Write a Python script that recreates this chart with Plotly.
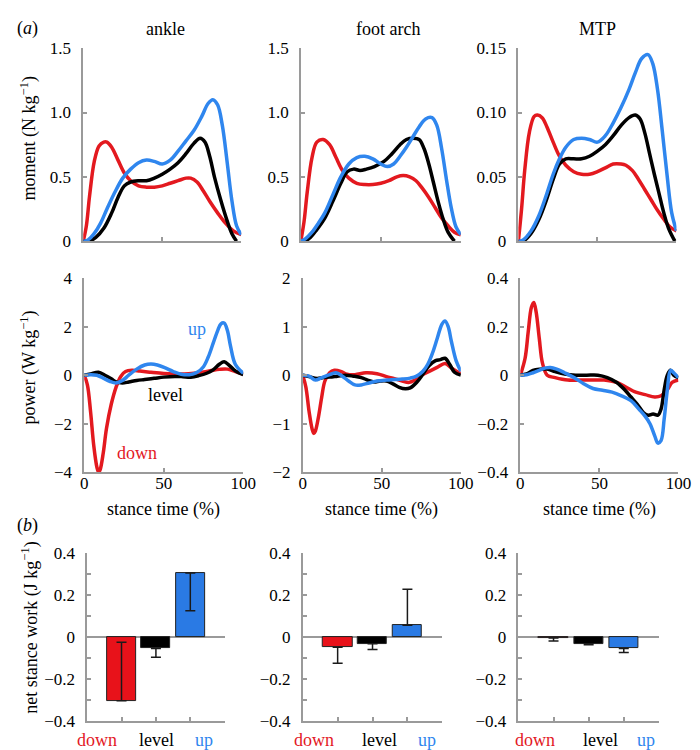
import plotly.graph_objects as go

# ---------------- data ----------------
joints = ["ankle", "foot arch", "MTP"]
conditions = ["down", "level", "up"]

# moment (N kg^-1) : x = stance time (%)
ank_m_down_x = [0, 2, 4, 7, 10, 13, 15, 18, 22, 26, 30, 35, 40, 45, 50, 55, 60, 65, 68, 72, 76, 80, 85, 90, 95, 100]
ank_m_down_y = [0, 0.12, 0.35, 0.62, 0.74, 0.77, 0.77, 0.73, 0.63, 0.53, 0.47, 0.43, 0.42, 0.42, 0.43, 0.45, 0.47, 0.49, 0.49, 0.46, 0.39, 0.31, 0.22, 0.14, 0.08, 0.05]
ank_m_level_x = [0, 3, 8, 13, 18, 22, 26, 30, 35, 40, 45, 50, 55, 60, 65, 70, 74, 77, 80, 83, 87, 91, 94, 97]
ank_m_level_y = [0, 0, 0.03, 0.1, 0.22, 0.34, 0.43, 0.46, 0.47, 0.47, 0.49, 0.52, 0.56, 0.61, 0.68, 0.76, 0.80, 0.77, 0.66, 0.50, 0.32, 0.16, 0.06, 0]
ank_m_up_x = [0, 3, 7, 11, 15, 20, 25, 30, 35, 40, 45, 50, 55, 60, 65, 70, 75, 79, 82, 85, 88, 91, 94, 97, 100]
ank_m_up_y = [0, 0.01, 0.06, 0.14, 0.25, 0.38, 0.49, 0.56, 0.61, 0.63, 0.62, 0.60, 0.63, 0.70, 0.78, 0.86, 0.97, 1.07, 1.10, 1.06, 0.90, 0.62, 0.32, 0.12, 0.05]

fa_m_down_x = [0, 2, 4, 7, 10, 14, 18, 22, 26, 30, 35, 40, 45, 50, 55, 60, 64, 68, 72, 76, 80, 84, 88, 92, 96, 100]
fa_m_down_y = [0, 0.15, 0.38, 0.65, 0.77, 0.79, 0.75, 0.65, 0.55, 0.49, 0.45, 0.44, 0.44, 0.45, 0.47, 0.50, 0.51, 0.50, 0.47, 0.41, 0.34, 0.26, 0.18, 0.12, 0.07, 0.05]
fa_m_level_x = [0, 2, 6, 10, 15, 20, 25, 29, 33, 37, 41, 46, 52, 57, 62, 66, 70, 74, 77, 80, 83, 86, 89, 92, 96]
fa_m_level_y = [0, 0, 0.03, 0.09, 0.18, 0.31, 0.45, 0.54, 0.56, 0.55, 0.56, 0.58, 0.62, 0.68, 0.75, 0.79, 0.80, 0.79, 0.72, 0.60, 0.45, 0.30, 0.17, 0.07, 0]
fa_m_up_x = [0, 3, 7, 11, 15, 20, 25, 30, 35, 40, 45, 50, 54, 58, 62, 66, 70, 74, 78, 82, 85, 88, 91, 94, 97, 100]
fa_m_up_y = [0, 0.02, 0.07, 0.14, 0.22, 0.36, 0.50, 0.60, 0.65, 0.66, 0.64, 0.60, 0.58, 0.60, 0.66, 0.73, 0.81, 0.89, 0.95, 0.96, 0.90, 0.72, 0.48, 0.26, 0.11, 0.05]

mtp_m_down_x = [0, 2, 4, 7, 10, 12, 15, 18, 22, 26, 30, 35, 40, 45, 50, 55, 60, 65, 68, 72, 76, 80, 84, 88, 92, 96, 100]
mtp_m_down_y = [0, 0.025, 0.055, 0.085, 0.097, 0.098, 0.096, 0.089, 0.077, 0.066, 0.059, 0.054, 0.052, 0.052, 0.054, 0.057, 0.060, 0.060, 0.059, 0.055, 0.048, 0.040, 0.032, 0.024, 0.017, 0.011, 0.008]
mtp_m_level_x = [0, 3, 8, 13, 18, 22, 26, 30, 35, 40, 45, 50, 55, 60, 65, 70, 74, 77, 80, 83, 86, 89, 92, 95, 99]
mtp_m_level_y = [0, 0, 0.006, 0.017, 0.033, 0.048, 0.060, 0.064, 0.064, 0.064, 0.066, 0.070, 0.075, 0.082, 0.090, 0.096, 0.098, 0.095, 0.084, 0.068, 0.052, 0.037, 0.022, 0.010, 0]
mtp_m_up_x = [0, 3, 8, 13, 18, 22, 26, 30, 35, 40, 45, 50, 55, 60, 65, 70, 74, 78, 82, 85, 88, 91, 94, 97, 100]
mtp_m_up_y = [0, 0.001, 0.008, 0.020, 0.037, 0.052, 0.064, 0.073, 0.079, 0.080, 0.079, 0.077, 0.082, 0.092, 0.104, 0.118, 0.131, 0.142, 0.145, 0.138, 0.118, 0.086, 0.052, 0.022, 0.008]

# power (W kg^-1)
ank_p_down_x = [0, 2, 4, 6, 8, 9, 10, 12, 14, 17, 20, 23, 26, 30, 35, 42, 50, 57, 63, 69, 75, 80, 85, 90, 95, 100]
ank_p_down_y = [0, -0.4, -1.5, -2.9, -3.8, -4.0, -3.9, -3.2, -2.2, -1.2, -0.5, -0.05, 0.15, 0.2, 0.17, 0.12, 0.07, 0.05, 0.05, 0.08, 0.13, 0.19, 0.24, 0.25, 0.15, 0.05]
ank_p_level_x = [0, 4, 9, 13, 17, 20, 24, 28, 33, 38, 44, 50, 57, 62, 67, 72, 77, 81, 85, 88, 91, 95, 100]
ank_p_level_y = [0, 0.05, 0.12, 0.0, -0.15, -0.28, -0.32, -0.28, -0.22, -0.18, -0.13, -0.08, -0.05, -0.06, -0.08, -0.02, 0.08, 0.22, 0.45, 0.55, 0.42, 0.18, 0.02]
ank_p_up_x = [0, 4, 8, 12, 16, 20, 24, 28, 33, 38, 42, 46, 51, 56, 61, 66, 71, 75, 78, 81, 84, 86, 88, 90, 92, 95, 100]
ank_p_up_y = [0, 0.02, 0.0, -0.12, -0.25, -0.32, -0.22, 0.0, 0.25, 0.42, 0.46, 0.42, 0.30, 0.15, 0.04, 0.02, 0.12, 0.35, 0.75, 1.3, 1.85, 2.12, 2.15, 1.85, 1.2, 0.45, 0.08]

fa_p_down_x = [0, 2, 4, 6, 7, 8, 10, 12, 14, 17, 20, 24, 28, 33, 40, 47, 53, 58, 63, 67, 71, 75, 80, 85, 90, 94, 100]
fa_p_down_y = [0, -0.25, -0.75, -1.12, -1.2, -1.15, -0.85, -0.45, -0.12, 0.05, 0.1, 0.08, 0.02, 0.01, 0.05, 0.03, -0.03, -0.07, -0.12, -0.15, -0.1, 0.0, 0.08, 0.16, 0.24, 0.15, 0.03]
fa_p_level_x = [0, 4, 9, 13, 17, 22, 27, 32, 37, 41, 45, 49, 53, 57, 61, 65, 68, 72, 76, 80, 84, 87, 90, 93, 96, 100]
fa_p_level_y = [0, -0.03, -0.07, -0.05, -0.04, -0.02, 0.0, -0.02, -0.05, -0.1, -0.14, -0.12, -0.12, -0.18, -0.25, -0.28, -0.26, -0.15, 0.02, 0.2, 0.3, 0.32, 0.35, 0.22, 0.06, 0.0]
fa_p_up_x = [0, 4, 8, 12, 16, 21, 25, 29, 33, 37, 42, 47, 53, 58, 63, 68, 72, 76, 79, 82, 85, 88, 90, 92, 94, 97, 100]
fa_p_up_y = [0, -0.02, -0.1, -0.05, 0.0, 0.05, -0.02, -0.12, -0.2, -0.2, -0.16, -0.12, -0.1, -0.09, -0.08, -0.06, -0.02, 0.08, 0.22, 0.45, 0.75, 1.05, 1.12, 1.0, 0.7, 0.3, 0.08]

mtp_p_down_x = [0, 3, 5, 7, 8.5, 10, 12, 14, 17, 22, 30, 38, 45, 53, 61, 67, 73, 79, 85, 89, 93, 96, 100]
mtp_p_down_y = [0, 0.07, 0.18, 0.28, 0.30, 0.26, 0.15, 0.05, 0.0, -0.01, -0.02, -0.02, -0.02, -0.02, -0.03, -0.05, -0.07, -0.08, -0.09, -0.085, -0.06, -0.03, -0.02]
mtp_p_level_x = [0, 4, 8, 12, 17, 22, 28, 35, 42, 49, 55, 61, 66, 70, 74, 78, 81, 84, 87, 89, 91, 93, 95, 97, 100]
mtp_p_level_y = [0, 0.005, 0.02, 0.025, 0.025, 0.015, 0.005, 0.0, 0.0, 0.0, -0.01, -0.03, -0.06, -0.09, -0.12, -0.155, -0.165, -0.16, -0.165, -0.14, -0.06, 0.0, 0.02, 0.0, -0.01]
mtp_p_up_x = [0, 4, 8, 12, 16, 19, 23, 28, 34, 40, 46, 52, 58, 64, 70, 75, 79, 82, 85, 87, 89, 91, 93, 95, 97, 100]
mtp_p_up_y = [0, 0.002, 0.01, 0.02, 0.03, 0.032, 0.025, 0.01, -0.01, -0.035, -0.055, -0.062, -0.07, -0.085, -0.105, -0.14, -0.17, -0.2, -0.25, -0.28, -0.27, -0.18, -0.06, 0.02, 0.01, -0.01]

# net stance work (J kg^-1): bar means and one-sided error lengths
ank_work = [-0.305, -0.055, 0.305]
ank_err_plus = [0.28, 0.0, 0.0]
ank_err_minus = [0.0, 0.042, 0.18]
fa_work = [-0.05, -0.033, 0.055]
fa_err_plus = [0.0, 0.0, 0.172]
fa_err_minus = [0.076, 0.027, 0.0]
mtp_work = [-0.005, -0.033, -0.055]
mtp_err_plus = [0.0, 0.0, 0.0]
mtp_err_minus = [0.015, 0.005, 0.02]

moment_ticks = [[0, 0.5, 1.0, 1.5], [0, 0.5, 1.0, 1.5], [0, 0.05, 0.10, 0.15]]
moment_ticktext = [["0", "0.5", "1.0", "1.5"], ["0", "0.5", "1.0", "1.5"], ["0", "0.05", "0.10", "0.15"]]
power_ticks = [[-4, -2, 0, 2, 4], [-2, -1, 0, 1, 2], [-0.4, -0.2, 0, 0.2, 0.4]]
power_ticktext = [["−4", "−2", "0", "2", "4"], ["−2", "−1", "0", "1", "2"], ["−0.4", "−0.2", "0", "0.2", "0.4"]]
work_ticks = [-0.4, -0.2, 0, 0.2, 0.4]
work_ticktext = ["−0.4", "−0.2", "0", "0.2", "0.4"]
stance_ticks = [0, 50, 100]

# ---------------- style ----------------
RED = "#e3191f"
BLACK = "#000000"
BLUE = "#2f86ee"
BAR_COLORS = ["#e8121a", "#000000", "#2a7ae4"]
AX = "#9a9a9a"
FONT = "Liberation Serif, Times New Roman, DejaVu Serif, serif"
W, H = 700, 750


def px(x):
    return x / W


def py(y):
    return 1 - y / H


fig = go.Figure()

top_x = [(73, 235), (296, 460), (519, 681)]
mid_x = [(74, 237), (298, 460), (521, 683)]
bot_x = [(77, 218), (298, 441), (519, 663)]
top_y = (32, 230)
mid_y = (268, 467)
bot_y = (550, 722)

moment_data = [
    [(ank_m_down_x, ank_m_down_y), (ank_m_level_x, ank_m_level_y), (ank_m_up_x, ank_m_up_y)],
    [(fa_m_down_x, fa_m_down_y), (fa_m_level_x, fa_m_level_y), (fa_m_up_x, fa_m_up_y)],
    [(mtp_m_down_x, mtp_m_down_y), (mtp_m_level_x, mtp_m_level_y), (mtp_m_up_x, mtp_m_up_y)],
]
power_data = [
    [(ank_p_down_x, ank_p_down_y), (ank_p_level_x, ank_p_level_y), (ank_p_up_x, ank_p_up_y)],
    [(fa_p_down_x, fa_p_down_y), (fa_p_level_x, fa_p_level_y), (fa_p_up_x, fa_p_up_y)],
    [(mtp_p_down_x, mtp_p_down_y), (mtp_p_level_x, mtp_p_level_y), (mtp_p_up_x, mtp_p_up_y)],
]
work_data = [
    (ank_work, ank_err_plus, ank_err_minus),
    (fa_work, fa_err_plus, fa_err_minus),
    (mtp_work, mtp_err_plus, mtp_err_minus),
]
line_colors = [RED, BLACK, BLUE]
moment_range = [[0, 1.5], [0, 1.5], [0, 0.15]]
power_range = [[-4, 4], [-2, 2], [-0.4, 0.4]]

base_axis = dict(
    showline=True, linecolor=AX, linewidth=1.5, mirror=False,
    ticks="inside", tickcolor=AX, ticklen=4, tickwidth=1.5,
    showgrid=False, zeroline=False,
    tickfont=dict(family=FONT, size=17, color="black"),
    fixedrange=True,
)

layout = {}
for j in range(3):
    # top row: moment
    n = j + 1
    xa, ya = f"x{n}" if n > 1 else "x", f"y{n}" if n > 1 else "y"
    for c in range(3):
        xs, ys = moment_data[j][c]
        fig.add_trace(go.Scatter(x=xs, y=ys, mode="lines", xaxis=xa, yaxis=ya,
                                 line=dict(color=line_colors[c], width=3.5, shape="spline", smoothing=1.0),
                                 showlegend=False, hoverinfo="skip"))
    layout[f"xaxis{n if n > 1 else ''}"] = dict(base_axis, domain=[px(top_x[j][0]), px(top_x[j][1])],
                                                 range=[0, 100], anchor=ya, tickvals=stance_ticks, showticklabels=False)
    layout[f"yaxis{n if n > 1 else ''}"] = dict(base_axis, domain=[py(top_y[1]), py(top_y[0])],
                                                 range=moment_range[j], anchor=xa,
                                                 tickvals=moment_ticks[j], ticktext=moment_ticktext[j],
                                                 ticklabelstandoff=7)
    # middle row: power
    n = j + 4
    xa, ya = f"x{n}", f"y{n}"
    for c in range(3):
        xs, ys = power_data[j][c]
        fig.add_trace(go.Scatter(x=xs, y=ys, mode="lines", xaxis=xa, yaxis=ya,
                                 line=dict(color=line_colors[c], width=3.5, shape="spline", smoothing=1.0),
                                 showlegend=False, hoverinfo="skip"))
    layout[f"xaxis{n}"] = dict(base_axis, domain=[px(mid_x[j][0]), px(mid_x[j][1])],
                               range=[0, 100], anchor=ya, tickvals=stance_ticks, ticklabelstandoff=-5)
    layout[f"yaxis{n}"] = dict(base_axis, domain=[py(mid_y[1]), py(mid_y[0])],
                               range=power_range[j], anchor=xa,
                               tickvals=power_ticks[j], ticktext=power_ticktext[j], ticklabelstandoff=7)
    # bottom row: net work bars
    n = j + 7
    xa, ya = f"x{n}", f"y{n}"
    means, ep, em = work_data[j]
    fig.add_trace(go.Bar(x=[0, 1, 2], y=means, xaxis=xa, yaxis=ya, width=0.84,
                         marker=dict(color=BAR_COLORS, line=dict(color="#222222", width=1)),
                         error_y=dict(type="data", symmetric=False, array=ep, arrayminus=em,
                                      color="#1a1a1a", thickness=1.5, width=5),
                         showlegend=False, hoverinfo="skip"))
    layout[f"xaxis{n}"] = dict(base_axis, domain=[px(bot_x[j][0]), px(bot_x[j][1])],
                               range=[-1.0, 3.0], anchor=ya, tickvals=[0, 1, 2], showticklabels=False)
    layout[f"yaxis{n}"] = dict(base_axis, domain=[py(bot_y[1]), py(bot_y[0])],
                               range=[-0.4, 0.4], anchor=xa,
                               tickvals=work_ticks, ticktext=work_ticktext, ticklabelstandoff=7,
                               zeroline=True, zerolinecolor=AX, zerolinewidth=1.5,
                               minor=dict(dtick=0.1, ticks="inside", ticklen=4, tickcolor=AX, tickwidth=1.5, showgrid=False))

annotations = []


def ann(text, x, y, size=18, color="black", angle=0):
    annotations.append(dict(text=text, x=px(x), y=py(y), xref="paper", yref="paper",
                            showarrow=False, textangle=angle,
                            font=dict(family=FONT, size=size, color=color),
                            xanchor="center", yanchor="middle"))


ann("(<i>a</i>)", 16, 12)
ann("(<i>b</i>)", 16, 522)
col_centers = [157, 385, 600]
for j in range(3):
    ann(joints[j], col_centers[j], 12)
    ann("stance time (%)", (mid_x[j][0] + mid_x[j][1]) / 2, 505)

ann("moment (N kg<sup>−1</sup>)", 17, 125, angle=-90)
ann("power (W kg<sup>−1</sup>)", 17, 360, angle=-90)
ann("net stance work (J kg<sup>−1</sup>)", 19, 627, angle=-90)

# condition labels on ankle power panel
ann("up", 190, 320, color=BLUE)
ann("level", 157, 388, color=BLACK)
ann("down", 128, 447, color=RED)

# category labels under bar panels
cat_pos = [(87, 148, 197), (310, 377, 425), (536, 603, 650)]
cat_colors = [RED, BLACK, BLUE]
for j in range(3):
    for c in range(3):
        ann(conditions[c], cat_pos[j][c], 742, color=cat_colors[c])

fig.update_layout(**layout)
fig.update_layout(
    width=W, height=H, margin=dict(l=0, r=0, t=0, b=0),
    paper_bgcolor="white", plot_bgcolor="white",
    annotations=annotations, bargap=0,
    font=dict(family=FONT, size=17, color="black"),
)

fig.write_html("out.html")
